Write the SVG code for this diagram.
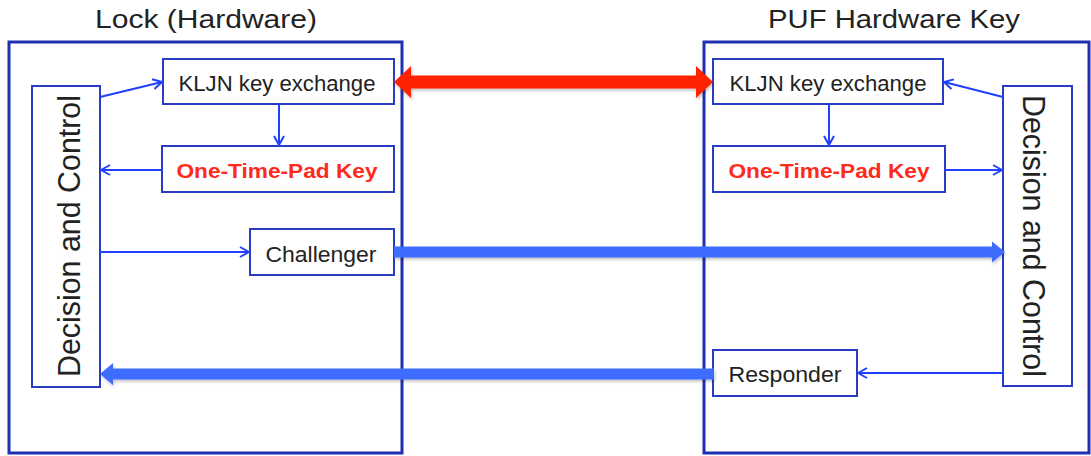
<svg xmlns="http://www.w3.org/2000/svg" width="1091" height="456" viewBox="0 0 1091 456">
<style>
.outer{fill:none;stroke:#1f2fb0;stroke-width:3}
.box{fill:#fff;stroke:#2b3cc4;stroke-width:2}
.lbl{font-family:"Liberation Sans",Arial,sans-serif;font-size:22px;fill:#222;text-anchor:middle}
.otp{font-family:"Liberation Sans",Arial,sans-serif;font-size:21px;font-weight:bold;fill:#ff2a1a;text-anchor:middle}
.title{font-family:"Liberation Sans",Arial,sans-serif;font-size:26px;fill:#222;text-anchor:middle}
.dc{font-family:"Liberation Sans",Arial,sans-serif;font-size:31px;fill:#222;text-anchor:middle}
.thin{fill:none;stroke:#2040ff;stroke-width:2;marker-end:url(#open)}
.thick{fill:#3d6cff;filter:url(#sh)}
.red{fill:#ff2200;filter:url(#sh)}
</style>
<defs>
<marker id="open" viewBox="0 0 12 12" refX="11" refY="6" markerWidth="12" markerHeight="12" markerUnits="userSpaceOnUse" orient="auto">
<path d="M2,1 L11,6 L2,11" fill="none" stroke="#2040ff" stroke-width="2"/>
</marker>
<filter id="sh" x="-5%" y="-50%" width="110%" height="200%">
<feDropShadow dx="1" dy="2" stdDeviation="1.5" flood-color="#000" flood-opacity="0.25"/>
</filter>
</defs>
<g id="lock">
<rect class="outer" x="9" y="42" width="393" height="411"/>
<text class="title" x="206" y="28" textLength="222" lengthAdjust="spacingAndGlyphs">Lock (Hardware)</text>
</g>
<g id="puf">
<rect class="outer" x="704" y="42" width="385" height="411"/>
<text class="title" x="894" y="28" textLength="252" lengthAdjust="spacingAndGlyphs">PUF Hardware Key</text>
</g>
<g id="lock-decision">
<rect class="box" x="32" y="86" width="68" height="301"/>
<text class="dc" transform="translate(80,236) rotate(-90)" textLength="282" lengthAdjust="spacingAndGlyphs">Decision and Control</text>
</g>
<g id="lock-kljn">
<rect class="box" x="163" y="59" width="231" height="45"/>
<text class="lbl" x="277" y="91" textLength="197" lengthAdjust="spacingAndGlyphs">KLJN key exchange</text>
</g>
<g id="lock-otp">
<rect class="box" x="162" y="146" width="232" height="46"/>
<text class="otp" x="277" y="178" textLength="201" lengthAdjust="spacingAndGlyphs">One-Time-Pad Key</text>
</g>
<g id="challenger">
<rect class="box" x="250" y="229" width="144" height="46"/>
<text class="lbl" x="321" y="262" textLength="111" lengthAdjust="spacingAndGlyphs">Challenger</text>
</g>
<g id="puf-decision">
<rect class="box" x="1003" y="86" width="69" height="300"/>
<text class="dc" transform="translate(1023,236) rotate(90)" textLength="282" lengthAdjust="spacingAndGlyphs">Decision and Control</text>
</g>
<g id="puf-kljn">
<rect class="box" x="713" y="59" width="230" height="45"/>
<text class="lbl" x="828" y="91" textLength="197" lengthAdjust="spacingAndGlyphs">KLJN key exchange</text>
</g>
<g id="puf-otp">
<rect class="box" x="713" y="146" width="232" height="46"/>
<text class="otp" x="829" y="178" textLength="201" lengthAdjust="spacingAndGlyphs">One-Time-Pad Key</text>
</g>
<g id="responder">
<rect class="box" x="713" y="350" width="144" height="46"/>
<text class="lbl" x="785" y="382" textLength="113" lengthAdjust="spacingAndGlyphs">Responder</text>
</g>
<g id="connectors">
<path class="thin" d="M100,97 L162,82"/>
<path class="thin" d="M279,104 L279,145"/>
<path class="thin" d="M162,170 L101,170"/>
<path class="thin" d="M100,252 L249,252"/>
<path class="thin" d="M1003,97 L944,82"/>
<path class="thin" d="M829,104 L829,145"/>
<path class="thin" d="M945,170 L1002,170"/>
<path class="thin" d="M1003,373 L858,373"/>
<polygon class="thick" points="394,246.5 992,246.5 992,241.5 1005,252 992,262.5 992,257.5 394,257.5"/>
<polygon class="thick" points="714,368.5 113,368.5 113,363 100,374 113,385 113,379.5 714,379.5"/>
<polygon class="red" points="394,82 411,66 411,75.5 696,75.5 696,66 713,82 696,98 696,88.5 411,88.5 411,98"/>
</g>
</svg>
